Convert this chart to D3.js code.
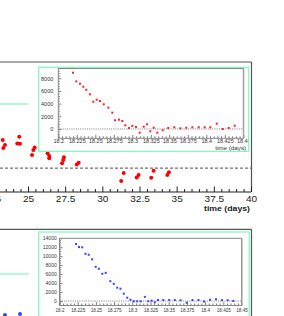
<!DOCTYPE html>
<html>
<head>
<meta charset="utf-8">
<script src="https://cdn.jsdelivr.net/npm/d3@7"></script>
<style>
  body { margin: 0; background: #fff; }
  svg { display: block; font-family: "Liberation Sans", Arial, sans-serif; }
</style>
</head>
<body>
<svg id="chart" width="284" height="316"></svg>
<script>
// ---- data ----
// upper main panel (red), time in days vs value (zero = dashed line)
const topDays = [23.30, 23.45, 23.34, 24.41, 24.28, 24.46, 25.45, 25.36, 25.27,
  26.32, 26.43, 26.43, 27.42, 27.37, 27.29, 28.41, 28.28,
  31.44, 31.27, 32.44, 32.31, 33.45, 33.29, 34.48, 34.37];
const topVals = [1.06, 0.87, 0.76, 1.18, 0.93, 0.92, 0.78, 0.68, 0.49,
  0.56, 0.46, 0.37, 0.41, 0.31, 0.18, 0.20, 0.14,
  -0.18, -0.49, -0.26, -0.35, -0.10, -0.36, -0.16, -0.26];

// lower main panel (blue), only the top of it is in view
const botDays = [23.45, 24.46];
const botVals = [0.77, 0.81];

// upper inset (red)
const redT = [18.2199, 18.2243, 18.2293, 18.2338, 18.2378, 18.2428, 18.2473, 18.2519,
  18.2564, 18.2614, 18.2676, 18.2730, 18.2766, 18.2820, 18.2865, 18.2905, 18.2955,
  18.3000, 18.3050, 18.3100, 18.3154, 18.3199, 18.3243, 18.3289, 18.3338, 18.3411,
  18.3486, 18.3568, 18.3649, 18.3730, 18.3811, 18.3897, 18.3978, 18.4054, 18.4141,
  18.4222, 18.4303, 18.4384];
const redV = [8870, 7510, 7140, 6660, 6190, 5470, 4300, 4620,
  4410, 3890, 3360, 2570, 1370, 1470, 1260, 580, 160,
  470, 320, -580, 360, 740, -360, 200, -580, -200,
  160, 270, 110, 200, 270, 270, 270, 270, 840,
  0, 160, 520];

// lower inset (blue)
const blueT = [18.2227, 18.2268, 18.2312, 18.2357, 18.2402, 18.2448, 18.2497, 18.2540,
  18.2588, 18.2635, 18.2698, 18.2746, 18.2793, 18.2838, 18.2883, 18.2930, 18.2975,
  18.3021, 18.3067, 18.3115, 18.3172, 18.3218, 18.3264, 18.3309, 18.3353, 18.3426,
  18.3507, 18.3584, 18.3662, 18.3747, 18.3827, 18.3909, 18.3985, 18.4067, 18.4150,
  18.4232, 18.4310, 18.4387];
const blueV = [12720, 12050, 11990, 10540, 10330, 9310, 7630, 7190,
  6090, 6290, 4420, 3840, 2970, 2750, 1630, 740, 290,
  -45, -70, -70, 920, -45, 70, -290, 220, 220,
  220, 220, 180, -380, 220, 220, -110, 270, 400,
  180, 180, 0];

// tick labels
const mainTicks = [22.5, 25, 27.5, 30, 32.5, 35, 37.5, 40];
const insetTicks = [18.2, 18.225, 18.25, 18.275, 18.3, 18.325, 18.35, 18.375, 18.4, 18.425, 18.45];
const topInsetY = [0, 2000, 4000, 6000, 8000];
const botInsetY = [0, 2000, 4000, 6000, 8000, 10000, 12000, 14000];

const mint = "#7ef5bd";
const svg = d3.select("#chart");

// minor tick values between majors
function minors(majors, n) {
  let out = [];
  for (let i = 0; i < majors.length - 1; i++) {
    let step = (majors[i + 1] - majors[i]) / n;
    for (let k = 1; k < n; k++) out.push(majors[i] + k * step);
  }
  return out;
}

// ---- upper main panel ----
let xMain = d3.scaleLinear().domain([25, 40]).range([28, 251]);
let yTop = d3.scaleLinear().domain([-0.9, 4]).range([192, 62]);

svg.append("line").attr("x1", 0).attr("x2", 251.5).attr("y1", 62).attr("y2", 62)
  .attr("stroke", "#555").attr("stroke-width", 1.2);
svg.append("line").attr("x1", 251.5).attr("x2", 251.5).attr("y1", 62).attr("y2", 192)
  .attr("stroke", "#555").attr("stroke-width", 1.2);

svg.append("line").attr("x1", 0).attr("x2", 251).attr("y1", yTop(0)).attr("y2", yTop(0))
  .attr("stroke", "#222").attr("stroke-dasharray", "3,2").attr("stroke-width", 0.8);

svg.append("line").attr("x1", 0).attr("x2", 28.7).attr("y1", 104).attr("y2", 104)
  .attr("stroke", mint).attr("stroke-width", 1.2);

let gMinor = svg.append("g").attr("transform", "translate(0,192)")
  .call(d3.axisBottom(xMain).tickValues(minors(mainTicks, 5)).tickSize(-3).tickFormat(""));
gMinor.select(".domain").remove();
let gMajor = svg.append("g").attr("transform", "translate(0,192)")
  .call(d3.axisBottom(xMain).tickValues(mainTicks).tickSize(-5.5).tickPadding(4)
    .tickFormat(d => d));
gMajor.select(".domain").remove();
svg.selectAll("g.tick line").attr("stroke", "#222");
gMajor.selectAll("text").attr("font-size", 9).attr("fill", "#222")
  .attr("font-family", "Liberation Sans, Arial").attr("transform", "scale(1.12,1)");
svg.append("line").attr("x1", 0).attr("x2", 251).attr("y1", 192).attr("y2", 192)
  .attr("stroke", "#222").attr("stroke-width", 1);

svg.append("text").attr("x", 250).attr("y", 211).attr("text-anchor", "end")
  .attr("font-size", 7.5).attr("font-weight", "bold").attr("fill", "#222")
  .attr("textLength", 46).attr("lengthAdjust", "spacingAndGlyphs")
  .text("time (days)");

svg.append("g").selectAll("circle")
  .data(topDays).enter().append("circle")
  .attr("cx", d => xMain(d))
  .attr("cy", (d, i) => yTop(topVals[i]))
  .attr("r", 2)
  .attr("fill", "#f00");

// ---- lower main panel ----
let yBot = d3.scaleLinear().domain([-0.9, 4]).range([359.3, 229.3]);
svg.append("line").attr("x1", 0).attr("x2", 251.5).attr("y1", 229.3).attr("y2", 229.3)
  .attr("stroke", "#555").attr("stroke-width", 1.2);
svg.append("line").attr("x1", 251.5).attr("x2", 251.5).attr("y1", 229.3).attr("y2", 316)
  .attr("stroke", "#555").attr("stroke-width", 1.2);
svg.append("line").attr("x1", 0).attr("x2", 28.7).attr("y1", 274).attr("y2", 274)
  .attr("stroke", mint).attr("stroke-width", 1.2);
svg.append("g").selectAll("circle")
  .data(botDays).enter().append("circle")
  .attr("cx", d => xMain(d))
  .attr("cy", (d, i) => yBot(botVals[i]))
  .attr("r", 2)
  .attr("fill", "#3344ff");

// ---- insets ----
function drawInset(o) {
  let clipId = "clip" + o.id;
  svg.append("clipPath").attr("id", clipId).append("rect")
    .attr("x", o.box[0]).attr("y", o.box[1])
    .attr("width", o.box[2] - o.box[0]).attr("height", o.box[3] - o.box[1]);
  let g = svg.append("g").attr("clip-path", `url(#${clipId})`);

  g.append("rect").attr("x", o.box[0]).attr("y", o.box[1])
    .attr("width", o.box[2] - o.box[0]).attr("height", o.box[3] - o.box[1])
    .attr("fill", "#fff");

  let x = d3.scaleLinear().domain([18.2, 18.45]).range([o.frame[0], o.frame[2]]);
  let y = d3.scaleLinear().domain(o.yDomain).range([o.frame[3], o.frame[1]]);

  // zero line
  g.append("line").attr("x1", o.frame[0]).attr("x2", o.frame[2])
    .attr("y1", y(0)).attr("y2", y(0))
    .attr("stroke", "#444").attr("stroke-width", 0.7).attr("stroke-dasharray", "1,1.2");

  // x axis
  let xm = g.append("g").attr("transform", `translate(0,${o.frame[3]})`)
    .call(d3.axisBottom(x).tickValues(minors(insetTicks, 5)).tickSize(-2).tickFormat(""));
  let xM = g.append("g").attr("transform", `translate(0,${o.frame[3]})`)
    .call(d3.axisBottom(x).tickValues(insetTicks).tickSize(-3.4).tickPadding(o.xPad)
      .tickFormat(d => +d.toFixed(3)));
  xM.selectAll("text").attr("font-size", o.xFont).attr("fill", "#333")
    .attr("font-family", "Liberation Sans, Arial");

  // y axis
  let yMinor = minors(o.yTicks, 5).concat(d3.range(1, 5).map(k => o.yTicks[0] - k * 400))
    .filter(v => v >= o.yDomain[0] && v <= o.yDomain[1]);
  if (o.yTicks[o.yTicks.length - 1] + 400 < o.yDomain[1]) {
    yMinor = yMinor.concat(d3.range(1, 5).map(k => o.yTicks[o.yTicks.length - 1] + k * 400)
      .filter(v => v <= o.yDomain[1]));
  }
  let ym = g.append("g").attr("transform", `translate(${o.frame[0]},0)`)
    .call(d3.axisLeft(y).tickValues(yMinor).tickSize(-1.5).tickFormat(""));
  let yM = g.append("g").attr("transform", `translate(${o.frame[0]},0)`)
    .call(d3.axisLeft(y).tickValues(o.yTicks).tickSize(-3).tickPadding(o.yPad)
      .tickFormat(d => d));
  yM.selectAll("text").attr("font-size", o.yFont).attr("fill", "#333")
    .attr("font-family", "Liberation Sans, Arial");
  [xm, xM, ym, yM].forEach(a => {
    a.select(".domain").remove();
    a.selectAll("line").attr("stroke", "#444").attr("stroke-width", 0.7);
  });

  // frame
  g.append("rect").attr("x", o.frame[0]).attr("y", o.frame[1])
    .attr("width", o.frame[2] - o.frame[0]).attr("height", o.frame[3] - o.frame[1])
    .attr("fill", "none").attr("stroke", "#888").attr("stroke-width", 1);
  g.append("line").attr("x1", o.frame[2] + 0.6).attr("x2", o.frame[2] + 0.6)
    .attr("y1", o.frame[1]).attr("y2", o.frame[3])
    .attr("stroke", "#aaa").attr("stroke-width", 1);

  g.append("text").attr("x", o.box[2] - 2.5).attr("y", o.titleY).attr("text-anchor", "end")
    .attr("font-size", o.xFont).attr("fill", "#333")
    .attr("textLength", 31).attr("lengthAdjust", "spacingAndGlyphs")
    .text("time (days)");

  // markers
  g.append("g").selectAll("rect")
    .data(o.t).enter().append("rect")
    .attr("x", d => x(d) - 1)
    .attr("y", (d, i) => y(o.v[i]) - 1)
    .attr("width", 2).attr("height", 2)
    .attr("fill", o.color);

  // pad border
  svg.append("rect").attr("x", o.box[0]).attr("y", o.box[1])
    .attr("width", o.box[2] - o.box[0]).attr("height", o.box[3] - o.box[1])
    .attr("fill", "none").attr("stroke", mint).attr("stroke-width", 1.2);
}

drawInset({
  id: "top", box: [38.7, 67.3, 248.7, 151.3], frame: [58.3, 68.5, 243.3, 138.3],
  yDomain: [-1470, 9540], yTicks: topInsetY, t: redT, v: redV, color: "#f22",
  xFont: 5.5, yFont: 5.5, xPad: 1.2, yPad: 5, titleY: 150.2
});
drawInset({
  id: "bot", box: [38.7, 232, 249.3, 330], frame: [59.5, 238.3, 241.5, 305.5],
  yDomain: [-1000, 14000], yTicks: botInsetY, t: blueT, v: blueV, color: "#3344ff",
  xFont: 4.6, yFont: 5, xPad: 3.4, yPad: 2.8, titleY: 319.5
});
</script>
</body>
</html>
